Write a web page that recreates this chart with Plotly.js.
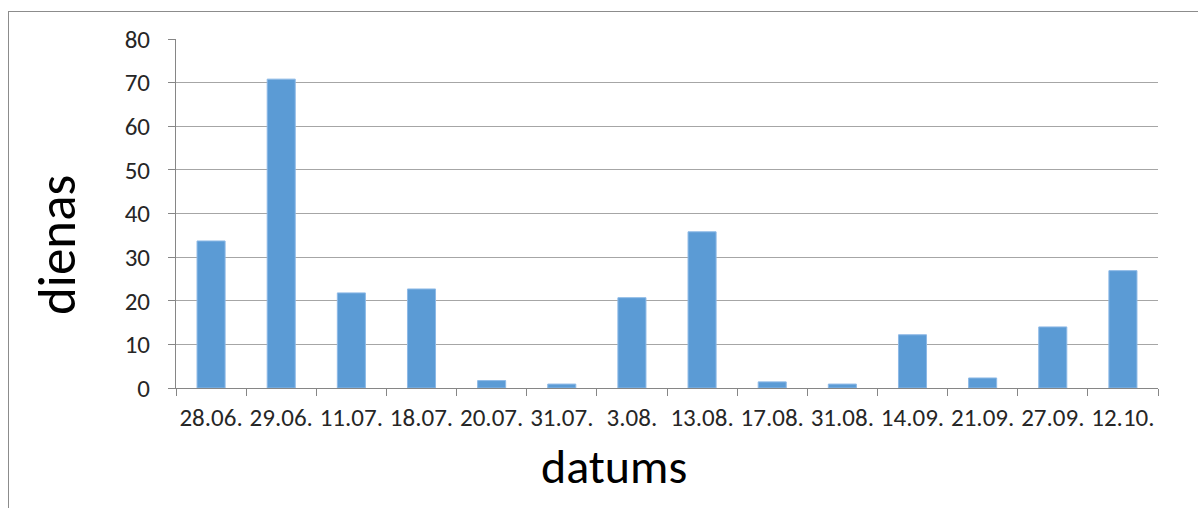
<!DOCTYPE html>
<html>
<head>
<meta charset="utf-8">
<script src="https://cdn.plot.ly/plotly-3.0.1.min.js"></script>
<style>
html,body{margin:0;padding:0;overflow:hidden;background:#fff;}
#chart{width:1198px;height:508px;}
#frame{position:absolute;left:8px;top:11px;width:1400px;height:700px;border:1px solid #8c8c8c;pointer-events:none;}
</style>
</head>
<body>
<div id="chart"></div>
<div id="frame"></div>
<script>
const categories = ["28.06.","29.06.","11.07.","18.07.","20.07.","31.07.","3.08.","13.08.","17.08.","31.08.","14.09.","21.09.","27.09.","12.10."];
const values = [33.7, 70.8, 21.8, 22.7, 1.7, 0.9, 20.7, 35.8, 1.4, 0.9, 12.2, 2.3, 14, 26.9];
const yTicks = [0,10,20,30,40,50,60,70,80];
const xTitle = "datums";
const yTitle = "dienas";

const font = "Carlito, Calibri, 'Open Sans', 'Liberation Sans', sans-serif";

Plotly.newPlot('chart', [{
  type: 'bar',
  x: categories,
  y: values,
  marker: {color: '#5B9BD5', line: {color: '#8DB9E6', width: 1}},
  hoverinfo: 'x+y'
}], {
  width: 1198, height: 508,
  margin: {l: 176, r: 40, t: 39, b: 120},
  paper_bgcolor: '#fff', plot_bgcolor: '#fff',
  bargap: 0.6,
  showlegend: false,
  font: {family: font, color: '#262626'},
  xaxis: {
    type: 'category',
    tickson: 'boundaries',
    ticks: 'outside', ticklen: 7, tickcolor: '#868686',
    showline: true, linecolor: '#868686', linewidth: 1,
    showgrid: false,
    tickangle: 0,
    tickfont: {size: 25, color: '#262626'},
    ticklabelstandoff: 7,
    automargin: false
  },
  yaxis: {
    range: [0, 80],
    tickvals: yTicks,
    ticks: 'outside', ticklen: 7, tickcolor: '#868686',
    showline: true, linecolor: '#868686', linewidth: 1,
    showgrid: true, gridcolor: '#a6a6a6', gridwidth: 1,
    zeroline: false,
    tickfont: {size: 25, color: '#262626'},
    ticklabelstandoff: 13,
    automargin: false
  },
  annotations: [
    {text: xTitle, xref: 'paper', yref: 'paper', x: 0.446, y: -0.226, xanchor: 'center', yanchor: 'middle', showarrow: false, font: {size: 48, color: '#000', family: font}},
    {text: yTitle, xref: 'paper', yref: 'paper', x: -0.121, y: 0.41, xanchor: 'center', yanchor: 'middle', textangle: -90, showarrow: false, font: {size: 53, color: '#000', family: font}}
  ]
}, {staticPlot: true});
</script>
</body>
</html>
